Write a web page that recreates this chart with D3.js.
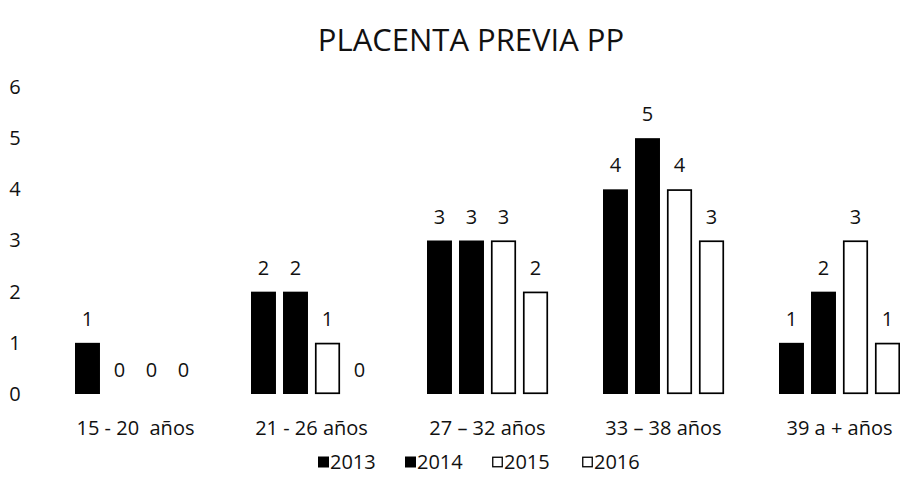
<!DOCTYPE html>
<html>
<head>
<meta charset="utf-8">
<script src="https://cdn.jsdelivr.net/npm/d3@7/dist/d3.min.js"></script>
<style>
  html, body { margin: 0; padding: 0; background: #fff; }
  svg { display: block; }
  text { font-family: "Open Sans", Lato, sans-serif; fill: #111; }
</style>
</head>
<body>
<svg id="chart" width="900" height="491"></svg>
<script>
// Age groups and yearly counts of placenta previa cases
const categories = ["15 - 20  años", "21 - 26 años", "27 – 32 años", "33 – 38 años", "39 a + años"];
const years = ["2013", "2014", "2015", "2016"];
const values2013 = [1, 2, 3, 4, 1];
const values2014 = [0, 2, 3, 5, 2];
const values2015 = [0, 1, 3, 4, 3];
const values2016 = [0, 0, 2, 3, 1];
const yTicks = [0, 1, 2, 3, 4, 5, 6];
const title = "PLACENTA PREVIA PP";

const seriesValues = [values2013, values2014, values2015, values2016];
const filled = { "2013": true, "2014": true, "2015": false, "2016": false };

const svg = d3.select("#chart");

const x0 = d3.scaleBand()
  .domain(categories)
  .range([47.5, 927.5])
  .paddingInner(0.3125)
  .paddingOuter(0.15625);

const x1 = d3.scaleBand()
  .domain(years)
  .range([0, x0.bandwidth()])
  .paddingInner(0.22);

const y = d3.scaleLinear().domain([0, 6]).range([394, 87]);

// Title
svg.append("text")
  .attr("x", 471)
  .attr("y", 51)
  .attr("text-anchor", "middle")
  .style("font-size", "31px")
  .text(title);

// Y axis labels (no axis line, no gridlines)
const yAxis = d3.axisLeft(y).tickValues(yTicks).tickSize(0).tickPadding(0).tickFormat(d3.format("d"));
const gy = svg.append("g").attr("transform", "translate(20,0)").call(yAxis);
gy.select(".domain").remove();
gy.selectAll("text")
  .attr("text-anchor", "middle")
  .attr("x", -5)
  .style("font-size", "20px")
  .style("font-family", "'Open Sans', Lato, sans-serif")
  .attr("fill", "#111");

// Bars
const rows = categories.map((c, i) => ({
  category: c,
  items: years.map((yr, j) => ({ year: yr, value: seriesValues[j][i] }))
}));

const groups = svg.append("g").selectAll("g")
  .data(rows)
  .join("g")
  .attr("transform", d => `translate(${x0(d.category)},0)`);

groups.selectAll("rect")
  .data(d => d.items.filter(it => it.value > 0))
  .join("rect")
  .attr("x", d => x1(d.year) + (filled[d.year] ? 0 : 0.75))
  .attr("y", d => y(d.value) + (filled[d.year] ? 0 : 0.75))
  .attr("width", d => x1.bandwidth() - (filled[d.year] ? 0 : 1.5))
  .attr("height", d => y(0) - y(d.value) - (filled[d.year] ? 0 : 1.5))
  .attr("fill", d => filled[d.year] ? "#000" : "#fff")
  .attr("stroke", d => filled[d.year] ? "none" : "#000")
  .attr("stroke-width", 1.7);

// Value labels
groups.selectAll("text.val")
  .data(d => d.items)
  .join("text")
  .attr("class", "val")
  .attr("x", d => x1(d.year) + x1.bandwidth() / 2)
  .attr("y", d => y(d.value) - 17)
  .attr("text-anchor", "middle")
  .style("font-size", "20px")
  .text(d => d.value);

// Category labels
svg.append("g").selectAll("text")
  .data(categories)
  .join("text")
  .attr("x", d => x0(d) + x0.bandwidth() / 2)
  .attr("y", 435)
  .attr("text-anchor", "middle")
  .style("font-size", "20px")
  .style("white-space", "pre")
  .text(d => d);

// Legend
const legendX = [318, 405, 492, 582];
const legend = svg.append("g").selectAll("g")
  .data(years)
  .join("g")
  .attr("transform", (d, i) => `translate(${legendX[i]},462)`);

legend.append("rect")
  .attr("x", d => filled[d] ? 0 : 0.75)
  .attr("y", d => -5.5 + (filled[d] ? 0 : 0.75))
  .attr("width", d => filled[d] ? 11 : 9.5)
  .attr("height", d => filled[d] ? 11 : 9.5)
  .attr("fill", d => filled[d] ? "#000" : "#fff")
  .attr("stroke", d => filled[d] ? "none" : "#000")
  .attr("stroke-width", 1.3);

legend.append("text")
  .attr("x", 12)
  .attr("y", 7)
  .style("font-size", "20px")
  .text(d => d);
</script>
</body>
</html>
